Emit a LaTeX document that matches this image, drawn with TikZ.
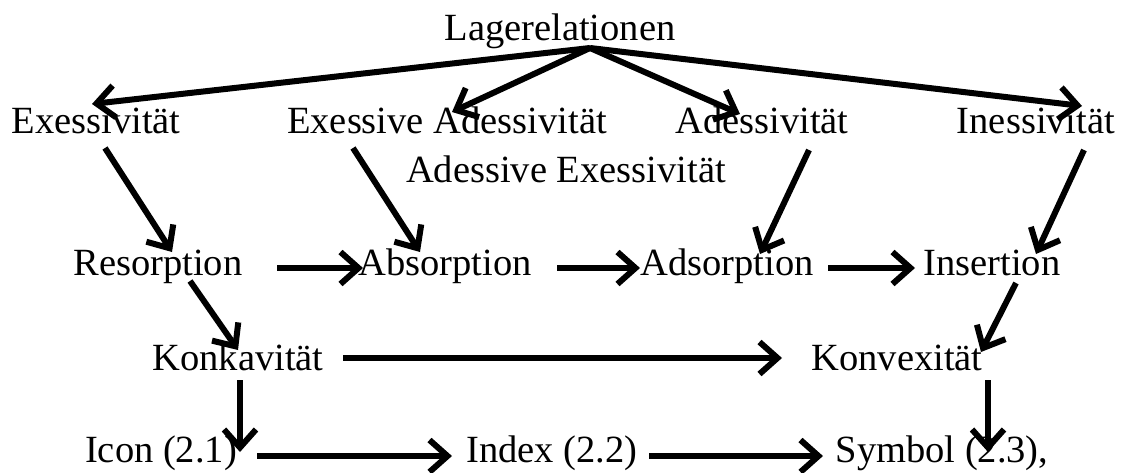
\documentclass[tikz,border=0pt]{standalone}
\usepackage{fontspec}
\setmainfont{Liberation Serif}
\usetikzlibrary{arrows.meta}
\tikzset{
  lbl/.style={anchor=base, inner sep=0pt, font=\fontsize{38.5}{42}\selectfont},
  conn/.style={line width=6pt, -{Straight Barb[length=18pt,width=32pt,line width=6pt]}, line join=miter},
}
\begin{document}
\begin{tikzpicture}[x=1pt,y=-1pt]
\useasboundingbox (0,0) rectangle (1128,472);
% texts
\node[lbl] (lager) at (560,40) {Lagerelationen};
\node[lbl] (exess) at (96,133) {Exessivität};
\node[lbl] (exad) at (447,133) {Exessive Adessivität};
\node[lbl] (adexz) at (566,182) {Adessive Exessivität};
\node[lbl] (ades) at (762,133) {Adessivität};
\node[lbl] (iness) at (1036,133) {Inessivität};
\node[lbl] (resorp) at (158,275) {Resorption};
\node[lbl] (absorp) at (445,275) {Absorption};
\node[lbl] (adsorp) at (727,275) {Adsorption};
\node[lbl] (insert) at (992,275) {Insertion};
\node[lbl] (konk) at (238,370) {Konkavität};
\node[lbl] (konv) at (897,370) {Konvexität};
\node[lbl] (icon) at (161,462) {Icon (2.1)};
\node[lbl] (index) at (552,462) {Index (2.2)};
\node[lbl] (symb) at (942,462) {Symbol (2.3),};
% connector ends
\coordinate (apex) at (590,48);
\coordinate (t1) at (92,104);
\coordinate (t2) at (452,112);
\coordinate (t3) at (740,114);
\coordinate (t4) at (1082,106);
\coordinate (s5) at (105,148);  \coordinate (t5) at (172,252);
\coordinate (s6) at (353,148);  \coordinate (t6) at (420,252);
\coordinate (s7) at (809,150);  \coordinate (t7) at (760,254);
\coordinate (s8) at (1084,150); \coordinate (t8) at (1036,254);
\coordinate (s9) at (277,268);  \coordinate (t9) at (363,268);
\coordinate (s10) at (557,268); \coordinate (t10) at (640,268);
\coordinate (s11) at (828,268); \coordinate (t11) at (915,268);
\coordinate (s12) at (190,281); \coordinate (t12) at (238,350);
\coordinate (s13) at (1016,283); \coordinate (t13) at (981,352);
\coordinate (s14) at (343,358); \coordinate (t14) at (782,358);
\coordinate (s15) at (240,380); \coordinate (t15) at (240,452);
\coordinate (s16) at (988,380); \coordinate (t16) at (988,452);
\coordinate (s17) at (257,456); \coordinate (t17) at (452,456);
\coordinate (s18) at (649,456); \coordinate (t18) at (823,456);
% connectors
\draw[conn] (apex) -- (t1);
\draw[conn] (apex) -- (t2);
\draw[conn] (apex) -- (t3);
\draw[conn] (apex) -- (t4);
\draw[conn] (s5) -- (t5);
\draw[conn] (s6) -- (t6);
\draw[conn] (s7) -- (t7);
\draw[conn] (s8) -- (t8);
\draw[conn] (s9) -- (t9);
\draw[conn] (s10) -- (t10);
\draw[conn] (s11) -- (t11);
\draw[conn] (s12) -- (t12);
\draw[conn] (s13) -- (t13);
\draw[conn] (s14) -- (t14);
\draw[conn] (s15) -- (t15);
\draw[conn] (s16) -- (t16);
\draw[conn] (s17) -- (t17);
\draw[conn] (s18) -- (t18);
\end{tikzpicture}
\end{document}
